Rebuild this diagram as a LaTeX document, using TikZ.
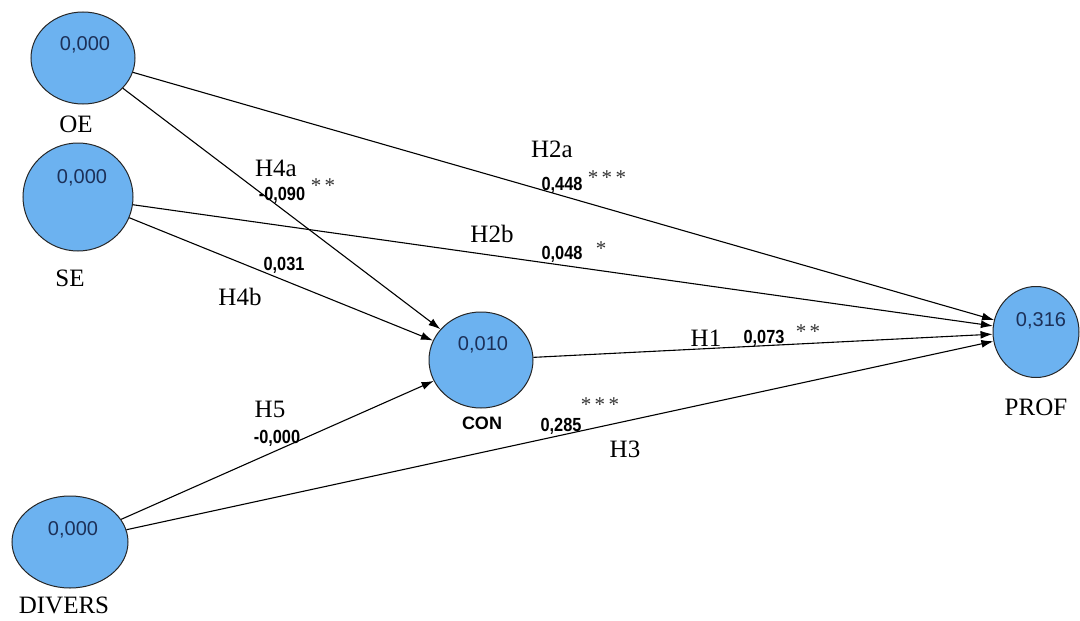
\documentclass[tikz,border=0pt]{standalone}
\usepackage{fontspec}
\setmainfont{Liberation Serif}
\setsansfont{Liberation Sans}
\newfontfamily\coeffont[FakeStretch=0.86]{Liberation Sans}
\usetikzlibrary{shapes.geometric,arrows.meta}
\definecolor{nodeblue}{RGB}{108,178,240}
\definecolor{valnavy}{RGB}{28,48,88}
\tikzset{
  lv/.style={ellipse, draw=black!85, line width=1pt, fill=nodeblue, inner sep=0pt},
  val/.style={font=\sffamily\fontsize{20}{20}\selectfont, text=valnavy, inner sep=0pt},
  lvname/.style={font=\fontsize{25}{25}\selectfont, inner sep=0pt},
  hyp/.style={font=\fontsize{25}{25}\selectfont, inner sep=0pt},
  coef/.style={font=\coeffont\bfseries\fontsize{19}{19}\selectfont, inner sep=0pt},
  conname/.style={font=\sffamily\bfseries\fontsize{18}{18}\selectfont, inner sep=0pt},
  stars/.style={font=\fontsize{21}{21}\selectfont, text=black!80, inner sep=0pt},
  pathedge/.style={draw=black, line width=1.1pt, -{Latex[length=12pt,width=8pt]}},
}
\begin{document}
\begin{tikzpicture}[x=1pt,y=-1pt]
\useasboundingbox (0,0) rectangle (1080,621);
% latent variables
\node[lv, minimum width=104pt, minimum height=92pt] (OE) at (83,58) {};
\node[lv, minimum width=110pt, minimum height=108pt] (SE) at (78,197) {};
\node[lv, minimum width=104pt, minimum height=96pt] (CON) at (481,360) {};
\node[lv, minimum width=86pt, minimum height=91pt] (PROF) at (1036,332) {};
\node[lv, minimum width=116pt, minimum height=92pt] (DIVERS) at (70,542) {};
% values
\node[val] (OEv) at (85,45) {0,000};
\node[val] (SEv) at (82,178) {0,000};
\node[val] (CONv) at (483,345) {0,010};
\node[val] (PROFv) at (1041,321) {0,316};
\node[val] (DIVERSv) at (73,530) {0,000};
% names
\node[lvname] (OEn) at (76,124) {OE};
\node[lvname] (SEn) at (70,278) {SE};
\node[conname] (CONn) at (482,423) {CON};
\node[lvname] (PROFn) at (1036,407) {PROF};
\node[lvname] (DIVERSn) at (64,605) {DIVERS};
% paths
\draw[pathedge] (OE) -- (PROF);
\draw[pathedge] (OE) -- (CON);
\draw[pathedge] (SE) -- (PROF);
\draw[pathedge] (SE) -- (CON);
\draw[pathedge] (CON) -- (PROF);
\draw[pathedge] (DIVERS) -- (CON);
\draw[pathedge] (DIVERS) -- (PROF);
% labels
\node[hyp] (h4a) at (276,168) {H4a};
\node[coef] (c4a) at (282,195) {-0,090};
\node[stars] (s4a) at (323,186) {*\,*};
\node[coef] (c4b) at (284,265) {0,031};
\node[hyp] (h4b) at (240,297) {H4b};
\node[hyp] (h2a) at (552,149) {H2a};
\node[coef] (c2a) at (562,185) {0,448};
\node[stars] (s2a) at (607,178) {*\,*\,*};
\node[hyp] (h2b) at (492,234) {H2b};
\node[coef] (c2b) at (562,254) {0,048};
\node[stars] (s2b) at (601,249) {*};
\node[hyp] (h1) at (706,338) {H1};
\node[coef] (c1) at (764,338) {0,073};
\node[stars] (s1) at (808,332) {*\,*};
\node[stars] (s3) at (600,405) {*\,*\,*};
\node[coef] (c3) at (561,426) {0,285};
\node[hyp] (h3) at (625,449) {H3};
\node[hyp] (h5) at (270,409) {H5};
\node[coef] (c5) at (277,438) {-0,000};
\end{tikzpicture}
\end{document}
